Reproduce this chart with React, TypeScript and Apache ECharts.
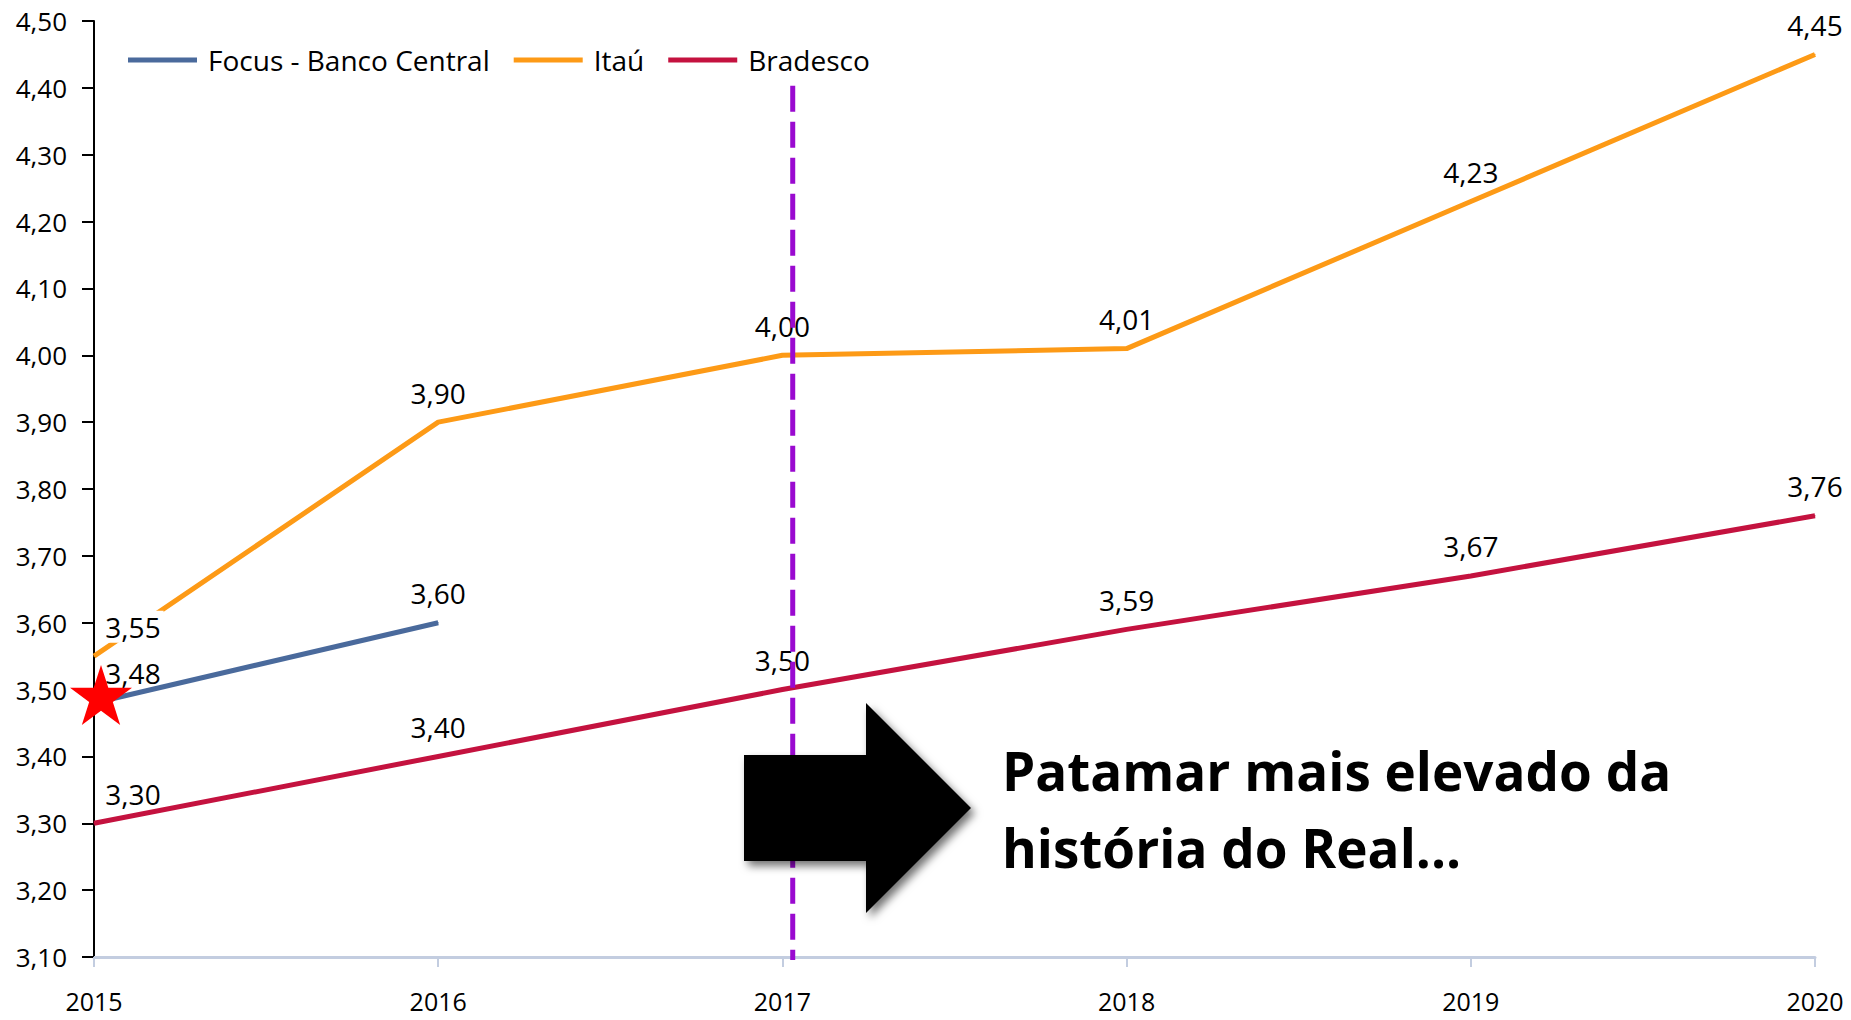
import React, { useEffect, useRef } from "react";
import * as echarts from "echarts";

const YEARS = ["2015", "2016", "2017", "2018", "2019", "2020"];
const FOCUS = [3.48, 3.6, null, null, null, null];
const ITAU = [3.55, 3.9, 4.0, 4.01, 4.23, 4.45];
const BRADESCO = [3.3, 3.4, 3.5, 3.59, 3.67, 3.76];
const SERIES_NAMES = ["Focus - Banco Central", "Itaú", "Bradesco"];
const COLORS = ["#4a6a9c", "#fd9a16", "#c4123f"];
const Y_MIN = 3.1;
const Y_MAX = 4.5;
const Y_STEP = 0.1;
const DIVIDER_YEAR = "2017";
const DIVIDER_NEXT = "2018";
const DIVIDER_FRACTION = 0.03;
const DIVIDER_TOP = 4.403;
const NOTE_TEXT = "Patamar mais elevado da\nhistória do Real...";

const FONT = "'Open Sans', 'Noto Sans', sans-serif";
const STAR =
  "path://M100,0 L122.45,69.1 L195.1,69.1 L136.3,111.8 L158.8,180.9 L100,138.2 L41.2,180.9 L63.7,111.8 L4.9,69.1 L77.55,69.1 Z";

const fmt = (v: number) => v.toFixed(2).replace(".", ",");

function firstShifted(arr: (number | null)[], bg: boolean) {
  return arr.map((v, i) =>
    i === 0 && v != null
      ? {
          value: v,
          label: bg
            ? { offset: [39, 0], backgroundColor: "#ffffff", padding: [2, 3], distance: 13 }
            : { offset: [39, 0] },
        }
      : v
  );
}

export default function App() {
  const ref = useRef<HTMLDivElement>(null);
  useEffect(() => {
    document.body.style.margin = "0";
    document.body.style.overflow = "hidden";
    const chart = echarts.init(ref.current!, null, { renderer: "svg" });
    const labelCfg = {
      show: true,
      position: "top",
      distance: 15,
      color: "#000",
      fontFamily: FONT,
      fontSize: 28,
      formatter: (p: any) => fmt(Number(p.value)),
    };
    const mk = (name: string, data: any[], color: string, extra: any = {}) => ({
      name,
      type: "line",
      data,
      symbol: "circle",
      symbolSize: 1,
      connectNulls: false,
      lineStyle: { color, width: 5 },
      itemStyle: { color },
      label: labelCfg,
      ...extra,
    });
    chart.setOption({
      animation: false,
      backgroundColor: "#ffffff",
      grid: { left: 94, right: 36, top: 21, bottom: 63, containLabel: false, outerBoundsMode: "none" },
      legend: {
        data: SERIES_NAMES,
        left: 128,
        top: 46,
        padding: 0,
        icon: "rect",
        itemWidth: 69,
        itemHeight: 5,
        itemGap: 24,
        textStyle: { fontFamily: FONT, fontSize: 28, color: "#000", padding: [0, 0, 0, 6] },
      },
      xAxis: {
        type: "category",
        data: YEARS,
        boundaryGap: false,
        axisLine: { lineStyle: { color: "#c3cde0", width: 3 } },
        axisTick: { show: true, length: 10, lineStyle: { color: "#c3cde0", width: 2 } },
        axisLabel: { color: "#000", fontFamily: FONT, fontSize: 25, margin: 31 },
        splitLine: { show: false },
      },
      yAxis: {
        type: "value",
        min: Y_MIN,
        max: Y_MAX,
        interval: Y_STEP,
        axisLine: { show: true, lineStyle: { color: "#000", width: 2 } },
        axisTick: { show: true, length: 12, lineStyle: { color: "#000", width: 2 } },
        axisLabel: { color: "#000", fontFamily: FONT, fontSize: 26, margin: 27, formatter: (v: number) => fmt(v) },
        splitLine: { show: false },
      },
      series: [
        mk(SERIES_NAMES[0], firstShifted(FOCUS, false), COLORS[0], {
          markPoint: {
            silent: true,
            symbol: STAR,
            symbolSize: [62, 60],
            symbolOffset: [7, -8],
            itemStyle: { color: "#ff0000" },
            label: { show: false },
            data: [{ coord: [YEARS[0], FOCUS[0]] }],
          },
        }),
        mk(SERIES_NAMES[1], firstShifted(ITAU, true), COLORS[1]),
        mk(SERIES_NAMES[2], firstShifted(BRADESCO, false), COLORS[2]),
      ],
    });

    const x1 = chart.convertToPixel({ xAxisIndex: 0 }, DIVIDER_YEAR) as number;
    const x2 = chart.convertToPixel({ xAxisIndex: 0 }, DIVIDER_NEXT) as number;
    const dx = x1 + (x2 - x1) * DIVIDER_FRACTION;
    const yTop = chart.convertToPixel({ yAxisIndex: 0 }, DIVIDER_TOP) as number;
    const yBot = (chart.convertToPixel({ yAxisIndex: 0 }, Y_MIN) as number) + 3;

    chart.setOption({
      graphic: [
        {
          type: "line",
          z: 50,
          silent: true,
          shape: { x1: dx, y1: yTop, x2: dx, y2: yBot },
          style: { stroke: "#9a0ad0", lineWidth: 5, lineDash: [26, 10] },
        },
        {
          type: "polygon",
          z: 60,
          silent: true,
          shape: {
            points: [
              [744, 755],
              [866, 755],
              [866, 703],
              [971, 808],
              [866, 913],
              [866, 861],
              [744, 861],
            ],
          },
          style: {
            fill: "#000",
            shadowBlur: 8,
            shadowOffsetX: 4,
            shadowOffsetY: 5,
            shadowColor: "rgba(0,0,0,0.55)",
          },
        },
        {
          type: "text",
          z: 60,
          silent: true,
          x: 1002,
          y: 732,
          style: {
            text: NOTE_TEXT,
            fill: "#000",
            fontFamily: FONT,
            fontWeight: "bold",
            fontSize: 53,
            lineHeight: 77,
            verticalAlign: "top",
            align: "left",
          },
        },
      ],
    });
    return () => chart.dispose();
  }, []);
  return <div ref={ref} style={{ width: 1851, height: 1020 }} />;
}
